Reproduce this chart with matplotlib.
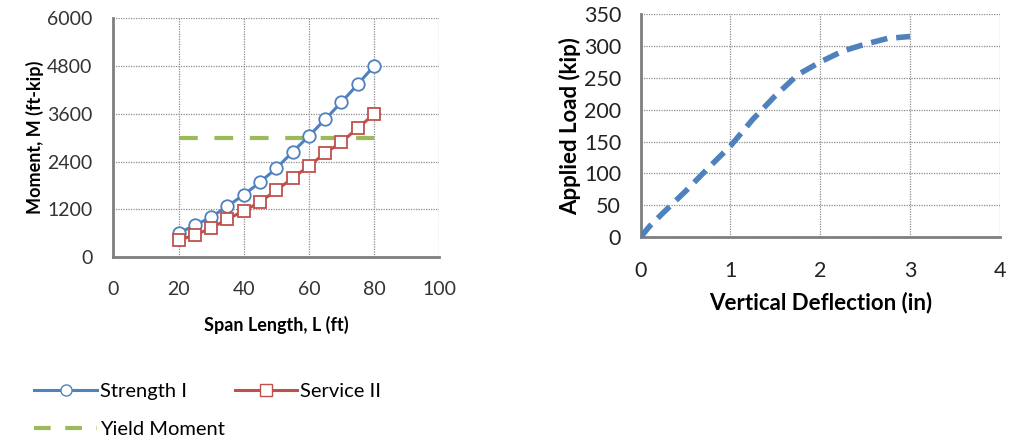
import matplotlib.pyplot as plt
from matplotlib.lines import Line2D

plt.rcParams['font.family'] = ['Lato', 'DejaVu Sans']

# left chart: moment vs span length
span = [20, 25, 30, 35, 40, 45, 50, 55, 60, 65, 70, 75, 80]
strength_1 = [600, 800, 1000, 1280, 1560, 1880, 2230, 2640, 3040, 3460, 3890, 4340, 4800]
service_2 = [430, 550, 730, 950, 1160, 1380, 1680, 1980, 2290, 2610, 2890, 3240, 3590]
yield_span = [20, 80]
yield_moment = [3000, 3000]

# right chart: load vs deflection
deflection = [0, 0.1, 0.25, 0.5, 0.75, 1.0, 1.25, 1.5, 1.75, 2.0, 2.25, 2.5, 2.75, 3.0]
load = [0, 17, 38, 72, 108, 143, 185, 222, 255, 275, 292, 303, 312, 315]

blue = '#4F81BD'
red = '#C0504D'
green = '#9BBB59'
axis_grey = '#7F7F7F'

fig = plt.figure(figsize=(10.12, 4.44), dpi=100)
ax1 = fig.add_axes([0.112, 0.421, 0.322, 0.538])
ax2 = fig.add_axes([0.633, 0.466, 0.355, 0.502])


def style_axes(ax):
    for side in ['top', 'right']:
        ax.spines[side].set_visible(False)
    for side in ['left', 'bottom']:
        ax.spines[side].set_color(axis_grey)
        ax.spines[side].set_linewidth(2)
    ax.grid(True, color='#8C8C8C', linestyle=(0, (1, 1)), linewidth=0.9)
    ax.set_axisbelow(True)
    ax.tick_params(length=0)


# left
ax1.plot(span, strength_1, color=blue, lw=2.2, marker='o', ms=9,
         mfc='white', mec=blue, mew=1.3, zorder=3)
ax1.plot(span, service_2, color=red, lw=2.2, marker='s', ms=9,
         mfc='white', mec=red, mew=1.3, zorder=3)
ax1.plot(yield_span, yield_moment, color=green, lw=3, dashes=(4.5, 4), zorder=2)
ax1.set_xlim(0, 100)
ax1.set_ylim(0, 6000)
ax1.set_xticks(range(0, 101, 20))
ax1.set_yticks(range(0, 6001, 1200))
style_axes(ax1)
ax1.tick_params(axis='x', pad=17, labelsize=14, colors='#333333')
ax1.tick_params(axis='y', pad=15, labelsize=14, colors='#333333')
ax1.set_xlabel('Span Length, L (ft)', fontsize=13, fontweight='bold', labelpad=13)
ax1.set_ylabel('Moment, M (ft-kip)', fontsize=13, fontweight='bold', labelpad=2)

handles = [
    Line2D([], [], color=blue, lw=2.2, marker='o', ms=8, mfc='white', mec=blue),
    Line2D([], [], color=green, lw=3, dashes=(4, 3.5)),
    Line2D([], [], color=red, lw=2.2, marker='s', ms=8, mfc='white', mec=red),
]
labels = ['Strength I', 'Yield Moment', 'Service II']
fig.legend(handles, labels, ncol=2, loc='upper left', bbox_to_anchor=(0.02, 0.17),
           frameon=False, fontsize=14.5, handlelength=3.1, handletextpad=0.15,
           columnspacing=0.5, labelspacing=1.05, borderpad=0.2)

# right
ax2.plot(deflection, load, color=blue, lw=4, dashes=(3, 1.6), zorder=3)
ax2.set_xlim(0, 4)
ax2.set_ylim(0, 350)
ax2.set_xticks(range(0, 5))
ax2.set_yticks(range(0, 351, 50))
style_axes(ax2)
ax2.tick_params(axis='x', pad=17, labelsize=15.5, colors='#222222')
ax2.tick_params(axis='y', pad=14, labelsize=15.5, colors='#222222')
ax2.set_xlabel('Vertical Deflection (in)', fontsize=16, fontweight='bold', labelpad=8)
ax2.set_ylabel('Applied Load (kip)', fontsize=16, fontweight='bold', labelpad=2)

fig.savefig('out.png', dpi=100)
